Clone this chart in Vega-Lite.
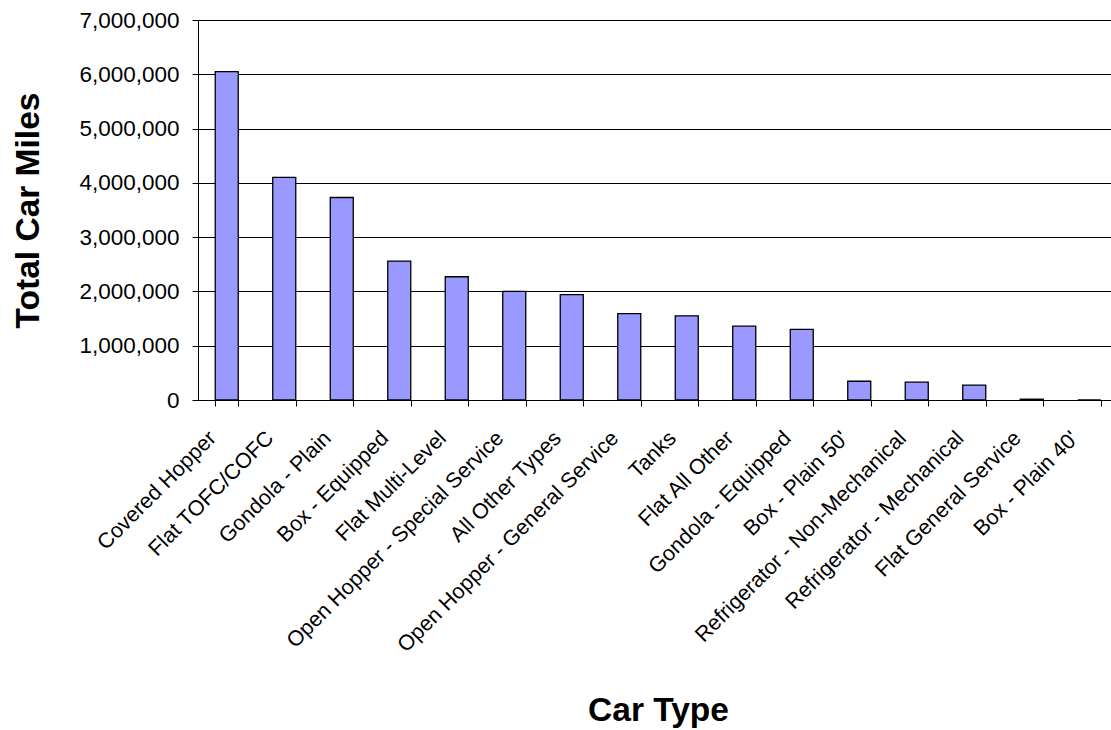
{
  "$schema": "https://vega.github.io/schema/vega-lite/v6.json",
  "width": 920,
  "height": 380,
  "autosize": {"type": "none"},
  "padding": {"left": 198, "top": 20, "right": 0, "bottom": 330},
  "background": "white",
  "config": {
    "view": {"stroke": null},
    "font": "Liberation Sans"
  },
  "data": {
    "values": [
      {"type": "Covered Hopper", "miles": 6050000},
      {"type": "Flat TOFC/COFC", "miles": 4100000},
      {"type": "Gondola - Plain", "miles": 3730000},
      {"type": "Box - Equipped", "miles": 2560000},
      {"type": "Flat Multi-Level", "miles": 2270000},
      {"type": "Open Hopper - Special Service", "miles": 2000000},
      {"type": "All Other Types", "miles": 1940000},
      {"type": "Open Hopper - General Service", "miles": 1590000},
      {"type": "Tanks", "miles": 1550000},
      {"type": "Flat All Other", "miles": 1360000},
      {"type": "Gondola - Equipped", "miles": 1300000},
      {"type": "Box - Plain 50'", "miles": 345000},
      {"type": "Refrigerator - Non-Mechanical", "miles": 330000},
      {"type": "Refrigerator - Mechanical", "miles": 275000},
      {"type": "Flat General Service", "miles": 15000},
      {"type": "Box - Plain 40'", "miles": 0}
    ]
  },
  "mark": {"type": "bar", "fill": "#9999FF", "stroke": "#000000", "strokeWidth": 1.3},
  "encoding": {
    "x": {
      "field": "type",
      "type": "nominal",
      "sort": null,
      "scale": {"paddingInner": 0.6, "paddingOuter": 0.3},
      "axis": {
        "title": "Car Type",
        "titleFont": "Liberation Sans",
        "titleFontSize": 33.5,
        "titleFontWeight": "bold",
        "titleColor": "#000000",
        "titleBaseline": "alphabetic",
        "titleY": 320,
        "titleX": 460,
        "tickBand": "extent",
        "tickSize": 6,
        "tickColor": "#000000",
        "domainColor": "#000000",
        "labelAngle": -45,
        "labelAlign": "right",
        "labelBaseline": "top",
        "labelOffset": -22,
        "labelPadding": 21,
        "labelFontSize": 21.5,
        "labelColor": "#000000",
        "labelOverlap": false,
        "labelLimit": 0,
        "grid": false
      }
    },
    "y": {
      "field": "miles",
      "type": "quantitative",
      "scale": {"domain": [0, 7000000], "nice": false},
      "axis": {
        "title": "Total Car Miles",
        "titleFont": "Liberation Sans",
        "titleFontSize": 33.5,
        "titleFontWeight": "bold",
        "titleColor": "#000000",
        "titleBaseline": "alphabetic",
        "titleX": -160,
        "values": [0, 1000000, 2000000, 3000000, 4000000, 5000000, 6000000, 7000000],
        "format": ",d",
        "tickSize": 6,
        "tickColor": "#000000",
        "domainColor": "#000000",
        "labelPadding": 13,
        "labelFontSize": 22.5,
        "labelColor": "#000000",
        "grid": true,
        "gridColor": "#000000",
        "gridWidth": 1,
        "gridOpacity": 1
      }
    }
  }
}
